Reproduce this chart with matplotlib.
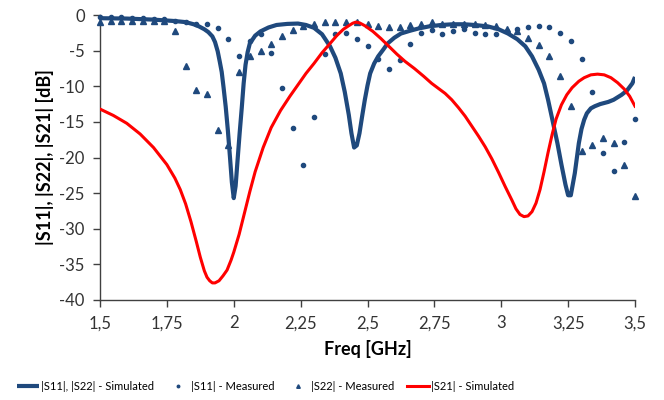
import matplotlib
matplotlib.use("Agg")
import matplotlib.pyplot as plt
from matplotlib.ticker import FixedLocator

plt.rcParams['font.family'] = ['Lato', 'DejaVu Sans']

# Balayage mesuré (pas de 40 MHz)
f_meas = [1.50, 1.54, 1.58, 1.62, 1.66, 1.70, 1.74, 1.78, 1.82, 1.86,
          1.90, 1.94, 1.98, 2.02, 2.06, 2.10, 2.14, 2.18, 2.22, 2.26,
          2.30, 2.34, 2.38, 2.42, 2.46, 2.50, 2.54, 2.58, 2.62, 2.66,
          2.70, 2.74, 2.78, 2.82, 2.86, 2.90, 2.94, 2.98, 3.02, 3.06,
          3.10, 3.14, 3.18, 3.22, 3.26, 3.30, 3.34, 3.38, 3.42, 3.46, 3.50]

s11_meas = [-0.3, -0.3, -0.3, -0.4, -0.4, -0.5, -0.6, -0.8, -1.0, -1.2,
            -1.3, -1.8, -3.4, -5.7, -3.6, -2.7, -5.4, -10.3, -15.8, -21.1,
            -14.3, -5.5, -2.6, -2.5, -3.3, -4.35, -6.2, -7.6, -6.3, -4.0,
            -2.5, -2.1, -2.6, -2.2, -2.0, -2.5, -2.7, -2.7, -2.3, -2.0,
            -1.7, -1.6, -1.7, -2.5, -3.7, -6.2, -10.8, -19.3, -21.9, -17.8, -14.6]

s22_meas = [-1.0, -0.9, -0.9, -0.9, -0.85, -0.85, -0.9, -2.3, -7.2, -10.5,
            -11.1, -16.2, -18.2, -8.0, -5.8, -5.0, -4.1, -3.0, -2.1, -1.6,
            -1.2, -1.0, -1.0, -1.0, -1.0, -1.2, -1.5, -1.7, -1.7, -1.4,
            -1.3, -1.0, -1.2, -1.2, -1.2, -1.3, -1.4, -1.5, -1.9, -2.3,
            -3.2, -4.2, -5.75, -8.5, -12.8, -19.1, -18.2, -17.2, -17.9, -21.1, -25.4]

# Simulation |S11|, |S22|
f_sim11 = [1.50, 1.60, 1.70, 1.78, 1.82, 1.85, 1.87, 1.89, 1.905, 1.92,
           1.93, 1.94, 1.948, 1.955, 1.962, 1.97, 1.978, 1.986, 1.993, 2.00,
           2.007, 2.014, 2.022, 2.03, 2.037, 2.044, 2.052, 2.06, 2.08, 2.10,
           2.13, 2.16, 2.20, 2.24, 2.27, 2.30, 2.33, 2.36, 2.38, 2.40,
           2.415, 2.43, 2.44, 2.45, 2.46, 2.47, 2.48, 2.49, 2.50, 2.51,
           2.525, 2.54, 2.56, 2.575, 2.60, 2.625, 2.66, 2.69, 2.73, 2.775,
           2.82, 2.86, 2.90, 2.95, 2.99, 3.025, 3.06, 3.09, 3.115, 3.14,
           3.16, 3.175, 3.19, 3.21, 3.225, 3.24, 3.25, 3.26, 3.275, 3.29,
           3.30, 3.31, 3.32, 3.335, 3.35, 3.37, 3.40, 3.42, 3.45, 3.47,
           3.49, 3.50]
s11_sim = [-0.45, -0.5, -0.65, -0.85, -1.0, -1.3, -1.6, -2.0, -2.4, -3.0,
           -3.8, -5.1, -6.6, -8.0, -10.2, -12.9, -16.2, -20.0, -23.5, -25.7,
           -24.0, -20.5, -16.6, -13.0, -9.6, -7.0, -5.2, -4.0, -2.9, -2.3,
           -1.75, -1.4, -1.25, -1.2, -1.4, -1.8, -2.7, -4.4, -6.0, -8.2,
           -10.8, -14.0, -16.6, -18.6, -18.3, -16.6, -14.2, -11.9, -9.9, -8.2,
           -6.8, -5.8, -4.8, -4.0, -3.2, -2.6, -2.2, -1.9, -1.6, -1.4,
           -1.3, -1.3, -1.4, -1.6, -2.0, -2.6, -3.4, -4.4, -5.8, -7.7,
           -9.6, -11.9, -14.5, -18.0, -21.0, -23.8, -25.3, -25.3, -22.2, -18.0,
           -16.0, -14.7, -13.8, -13.1, -12.8, -12.5, -12.2, -11.9, -11.2, -10.6,
           -9.6, -8.7]

# Simulation |S21|
f_sim21 = [1.50, 1.55, 1.60, 1.65, 1.70, 1.75, 1.78, 1.80, 1.82, 1.84,
           1.86, 1.875, 1.89, 1.90, 1.91, 1.92, 1.93, 1.945, 1.96, 1.975,
           1.99, 2.00, 2.02, 2.04, 2.06, 2.08, 2.11, 2.14, 2.175, 2.21,
           2.24, 2.27, 2.30, 2.33, 2.36, 2.385, 2.41, 2.43, 2.445, 2.456,
           2.47, 2.49, 2.52, 2.55, 2.58, 2.61, 2.64, 2.675, 2.71, 2.74,
           2.765, 2.79, 2.815, 2.84, 2.865, 2.89, 2.915, 2.94, 2.965, 2.99,
           3.015, 3.04, 3.055, 3.07, 3.085, 3.10, 3.115, 3.13, 3.145, 3.16,
           3.175, 3.19, 3.205, 3.225, 3.245, 3.265, 3.29, 3.31, 3.335, 3.36,
           3.385, 3.41, 3.435, 3.46, 3.48, 3.50]
s21_sim = [-13.2, -14.1, -15.2, -16.7, -18.6, -21.0, -22.9, -24.5, -26.5, -29.0,
           -31.8, -34.0, -35.9, -36.8, -37.3, -37.6, -37.6, -37.3, -36.6, -35.8,
           -34.4, -33.3, -30.8, -27.8, -24.8, -22.0, -18.6, -15.8, -13.4, -11.4,
           -9.8, -8.2, -6.8, -5.3, -4.0, -2.9, -2.0, -1.5, -1.15, -1.0,
           -1.1, -1.5, -2.3, -3.3, -4.4, -5.5, -6.5, -7.5, -8.6, -9.6,
           -10.3, -11.0, -11.9, -13.0, -14.2, -15.6, -17.0, -18.5, -20.2, -22.1,
           -24.1, -26.0, -27.2, -28.0, -28.3, -28.2, -27.6, -26.4, -24.5, -22.0,
           -19.3, -16.8, -14.6, -12.6, -11.2, -10.2, -9.3, -8.8, -8.4, -8.3,
           -8.4, -8.8, -9.5, -10.4, -11.4, -12.8]

x_ticks = [1.5, 1.75, 2.0, 2.25, 2.5, 2.75, 3.0, 3.25, 3.5]
x_labels = ["1,5", "1,75", "2", "2,25", "2,5", "2,75", "3", "3,25", "3,5"]
y_ticks = [0, -5, -10, -15, -20, -25, -30, -35, -40]

bleu = "#1F497D"

fig = plt.figure(figsize=(6.64, 4.0), dpi=100)
ax = fig.add_axes([100/664, 1 - 300/400, 535/664, 285/400])

ax.plot(f_sim11, s11_sim, color=bleu, lw=3.0, solid_joinstyle='round',
        solid_capstyle='butt', label="|S11|, |S22| - Simulated", zorder=2)
ax.plot(f_meas, s11_meas, linestyle='none', marker='o', ms=3.0, color=bleu,
        mec=bleu, label="|S11| - Measured", clip_on=False, zorder=3)
ax.plot(f_meas, s22_meas, linestyle='none', marker='^', ms=4.3, color=bleu,
        mec=bleu, label="|S22| - Measured", clip_on=False, zorder=3)
ax.plot(f_sim21, s21_sim, color="#FF0000", lw=2.2, solid_joinstyle='round',
        label="|S21| - Simulated", zorder=4)

ax.set_xlim(1.5, 3.5)
ax.set_ylim(-40, 0)
ax.xaxis.set_major_locator(FixedLocator(x_ticks))
ax.set_xticklabels(x_labels)
ax.yaxis.set_major_locator(FixedLocator(y_ticks))
ax.set_yticklabels([str(v) for v in y_ticks])

for s in ["top", "right"]:
    ax.spines[s].set_visible(False)
for s in ["left", "bottom"]:
    ax.spines[s].set_color("#404040")
    ax.spines[s].set_linewidth(1.0)
ax.tick_params(axis='both', direction='out', length=5, width=1.0,
               color="#404040", labelsize=12, labelcolor="#333333", pad=6)

ax.set_xlabel("Freq [GHz]", fontsize=13, fontweight='bold', labelpad=6)
ax.set_ylabel("|S11|, |S22|, |S21| [dB]", fontsize=13, fontweight='bold', labelpad=4)

fig.legend(loc='lower center', bbox_to_anchor=(0.40, -0.005), ncol=4,
           frameon=False, fontsize=8, handlelength=2.0, columnspacing=1.1,
           handletextpad=0.2, markerscale=0.6)

fig.savefig("out.png", dpi=100)
